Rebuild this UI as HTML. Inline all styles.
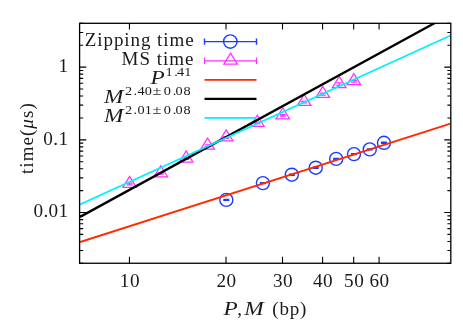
<!DOCTYPE html>
<html><head><meta charset="utf-8"><title>plot</title>
<style>html,body{margin:0;padding:0;background:#fff;}svg{display:block;}text{font-family:"Liberation Serif",serif;fill:#1a1a1a;}</style>
</head><body>
<svg width="463" height="324" viewBox="0 0 463 324">
<rect x="0" y="0" width="463" height="324" fill="#fff"/>
<defs><clipPath id="c"><rect x="80" y="23" width="370.5" height="240"/></clipPath></defs>
<path d="M79.60 263.35H83.20M450.80 263.35H447.40M79.60 250.55H83.20M450.80 250.55H447.40M79.60 241.46H83.20M450.80 241.46H447.40M79.60 234.42H83.20M450.80 234.42H447.40M79.60 228.66H83.20M450.80 228.66H447.40M79.60 223.79H83.20M450.80 223.79H447.40M79.60 219.58H83.20M450.80 219.58H447.40M79.60 215.86H83.20M450.80 215.86H447.40M79.60 212.53H86.30M450.80 212.53H444.30M79.60 190.65H83.20M450.80 190.65H447.40M79.60 177.84H83.20M450.80 177.84H447.40M79.60 168.76H83.20M450.80 168.76H447.40M79.60 161.71H83.20M450.80 161.71H447.40M79.60 155.96H83.20M450.80 155.96H447.40M79.60 151.09H83.20M450.80 151.09H447.40M79.60 146.87H83.20M450.80 146.87H447.40M79.60 143.15H83.20M450.80 143.15H447.40M79.60 139.83H86.30M450.80 139.83H444.30M79.60 117.94H83.20M450.80 117.94H447.40M79.60 105.14H83.20M450.80 105.14H447.40M79.60 96.05H83.20M450.80 96.05H447.40M79.60 89.01H83.20M450.80 89.01H447.40M79.60 83.25H83.20M450.80 83.25H447.40M79.60 78.38H83.20M450.80 78.38H447.40M79.60 74.17H83.20M450.80 74.17H447.40M79.60 70.45H83.20M450.80 70.45H447.40M79.60 67.12H86.30M450.80 67.12H444.30M79.60 45.24H83.20M450.80 45.24H447.40M79.60 32.43H83.20M450.80 32.43H447.40M79.60 23.35H83.20M450.80 23.35H447.40M129.44 263.25V256.70M129.44 23.30V29.50M226.02 263.25V256.70M226.02 23.30V29.50M282.51 263.25V256.70M282.51 23.30V29.50M322.59 263.25V256.70M322.59 23.30V29.50M353.68 263.25V256.70M353.68 23.30V29.50M379.08 263.25V256.70M379.08 23.30V29.50" stroke="#000" stroke-width="1.1" fill="none"/>
<g fill="none" stroke="#1a3cff" stroke-width="1.4">
<path d="M204.5 41.6H256.5M204.5 38.4v6.4M256.5 38.4v6.4"/>
<circle cx="230.3" cy="41.6" r="6.7"/>
<circle cx="226.32" cy="199.90" r="6.50"/><path d="M223.32 199.40h6M223.32 200.40h6M226.32 199.40v1.00"/>
<circle cx="262.87" cy="183.10" r="6.50"/><path d="M259.87 182.60h6M259.87 183.60h6M262.87 182.60v1.00"/>
<circle cx="291.80" cy="174.70" r="6.50"/><path d="M288.80 174.20h6M288.80 175.20h6M291.80 174.20v1.00"/>
<circle cx="315.74" cy="167.70" r="6.50"/><path d="M312.74 167.20h6M312.74 168.20h6M315.74 167.20v1.00"/>
<circle cx="336.17" cy="158.90" r="6.50"/><path d="M333.17 158.40h6M333.17 159.40h6M336.17 158.40v1.00"/>
<circle cx="353.98" cy="154.10" r="6.50"/><path d="M350.98 153.60h6M350.98 154.60h6M353.98 153.60v1.00"/>
<circle cx="369.77" cy="149.40" r="6.50"/><path d="M366.77 148.90h6M366.77 149.90h6M369.77 148.90v1.00"/>
<circle cx="383.95" cy="142.80" r="6.50"/><path d="M380.95 142.20h6M380.95 143.40h6M383.95 142.20v1.20"/>
</g>
<g fill="none" stroke="#ff30ff" stroke-width="1.25">
<path d="M204.5 60.75H256.5M204.5 57.5v6.5M256.5 57.5v6.5"/>
<path d="M230.60 53.20L223.90 64.05L237.30 64.05Z"/>
<path d="M129.64 176.33L122.84 187.35L136.44 187.35Z"/><path d="M126.64 183.15h6M126.64 184.75h6M129.64 183.15v1.60"/>
<path d="M160.73 165.73L153.93 176.75L167.53 176.75Z"/><path d="M157.73 172.55h6M157.73 174.15h6M160.73 172.55v1.60"/>
<path d="M186.13 151.03L179.33 162.05L192.93 162.05Z"/><path d="M183.13 157.85h6M183.13 159.45h6M186.13 157.85v1.60"/>
<path d="M207.61 138.13L200.81 149.15L214.41 149.15Z"/><path d="M204.61 144.95h6M204.61 146.55h6M207.61 144.95v1.60"/>
<path d="M226.22 129.83L219.42 140.85L233.02 140.85Z"/><path d="M223.22 136.65h6M223.22 138.25h6M226.22 136.65v1.60"/>
<path d="M257.31 115.23L250.51 126.25L264.11 126.25Z"/><path d="M254.31 122.05h6M254.31 123.65h6M257.31 122.05v1.60"/>
<path d="M282.71 107.73L275.91 118.75L289.51 118.75Z"/><path d="M279.71 114.55h6M279.71 116.15h6M282.71 114.55v1.60"/>
<path d="M304.18 94.43L297.38 105.45L310.98 105.45Z"/><path d="M301.18 101.25h6M301.18 102.85h6M304.18 101.25v1.60"/>
<path d="M322.79 86.43L315.99 97.45L329.59 97.45Z"/><path d="M319.79 93.05h6M319.79 95.05h6M322.79 93.05v2.00"/>
<path d="M339.20 76.53L332.40 87.55L346.00 87.55Z"/><path d="M336.20 82.95h6M336.20 85.35h6M339.20 82.95v2.40"/>
<path d="M353.88 73.63L347.08 84.65L360.68 84.65Z"/><path d="M350.88 80.45h6M350.88 82.05h6M353.88 80.45v1.60"/>
</g>
<g clip-path="url(#c)" fill="none" stroke-width="1.9">
<line x1="80" y1="242" x2="450.5" y2="123.6" stroke="#ff2a00"/>
<line x1="80" y1="216.9" x2="450.5" y2="14.4" stroke="#000" stroke-width="2.3"/>
<line x1="80" y1="204.5" x2="450.5" y2="35.5" stroke="#00f0ff"/>
</g>
<g fill="none" stroke-width="1.9">
<line x1="204.5" y1="79.85" x2="256.5" y2="79.85" stroke="#ff2a00"/>
<line x1="204.5" y1="98.85" x2="256.5" y2="98.85" stroke="#000" stroke-width="2.3"/>
<line x1="204.5" y1="117.85" x2="256.5" y2="117.85" stroke="#00f0ff"/>
</g>
<rect x="79.6" y="23.3" width="371.2" height="239.95" fill="none" stroke="#000" stroke-width="1.3"/>
<g style="filter:grayscale(1)">
<text x="194.5" y="46.1" font-size="19" text-anchor="end" letter-spacing="0.92">Zipping time</text>
<text x="194.5" y="65" font-size="19" text-anchor="end" letter-spacing="1.0">MS time</text>
<text transform="translate(150.5,83.9) scale(1.19,1)" font-size="19.5" font-style="italic">P</text>
<text transform="translate(165.4,76) scale(1.1,1)" font-size="13">1</text><text transform="translate(174.2,76) scale(1.1,1)" font-size="13">.</text><text transform="translate(177.0,76) scale(1.1,1)" font-size="13">4</text><text transform="translate(184.2,76) scale(1.1,1)" font-size="13">1</text>
<text transform="translate(104,103.1) scale(1.2,1)" font-size="19.5" font-style="italic">M</text>
<text transform="translate(125.1,95.4) scale(1.1,1)" font-size="13">2</text><text transform="translate(133.5,95.4) scale(1.1,1)" font-size="13">.</text><text transform="translate(137.4,95.4) scale(1.1,1)" font-size="13">4</text><text transform="translate(144.8,95.4) scale(1.1,1)" font-size="13">0</text><text transform="translate(152.4,95.4) scale(1.25,1)" font-size="13">±</text><text transform="translate(163.8,95.4) scale(1.1,1)" font-size="13">0</text><text transform="translate(172.7,95.4) scale(1.1,1)" font-size="13">.</text><text transform="translate(175.5,95.4) scale(1.1,1)" font-size="13">0</text><text transform="translate(183.5,95.4) scale(1.1,1)" font-size="13">8</text>
<text transform="translate(104,121.7) scale(1.2,1)" font-size="19.5" font-style="italic">M</text>
<text transform="translate(125.1,113.8) scale(1.1,1)" font-size="13">2</text><text transform="translate(133.5,113.8) scale(1.1,1)" font-size="13">.</text><text transform="translate(137.4,113.8) scale(1.1,1)" font-size="13">0</text><text transform="translate(144.8,113.8) scale(1.1,1)" font-size="13">1</text><text transform="translate(152.4,113.8) scale(1.25,1)" font-size="13">±</text><text transform="translate(163.8,113.8) scale(1.1,1)" font-size="13">0</text><text transform="translate(172.7,113.8) scale(1.1,1)" font-size="13">.</text><text transform="translate(175.5,113.8) scale(1.1,1)" font-size="13">0</text><text transform="translate(183.5,113.8) scale(1.1,1)" font-size="13">8</text>
<text x="68.1" y="72.2" font-size="19.2" text-anchor="end" >1</text>
<text x="68.4" y="144.8" font-size="19.2" text-anchor="end" letter-spacing="0.4">0.1</text>
<text x="68.3" y="217.4" font-size="19.2" text-anchor="end" letter-spacing="0.3">0.01</text>
<text x="129.944" y="287.4" font-size="19.2" text-anchor="middle" letter-spacing="0.5">10</text>
<text x="226.516" y="287.4" font-size="19.2" text-anchor="middle" letter-spacing="0.5">20</text>
<text x="283.007" y="287.4" font-size="19.2" text-anchor="middle" letter-spacing="0.5">30</text>
<text x="323.088" y="287.4" font-size="19.2" text-anchor="middle" letter-spacing="0.5">40</text>
<text x="354.178" y="287.4" font-size="19.2" text-anchor="middle" letter-spacing="0.5">50</text>
<text x="379.579" y="287.4" font-size="19.2" text-anchor="middle" letter-spacing="0.5">60</text>
<text transform="translate(223.5,314.7) scale(1.19,1)" font-size="19.5" font-style="italic">P</text>
<text x="237.2" y="314.7" font-size="19">,</text>
<text transform="translate(244.3,314.7) scale(1.2,1)" font-size="19.5" font-style="italic">M</text>
<text x="272.3" y="314.7" font-size="19" letter-spacing="0.8">(bp)</text>
<text transform="translate(33,174) rotate(-90)" font-size="19" letter-spacing="1.05">time(<tspan font-style="italic">μ</tspan>s)</text>
</g>
</svg></body></html>
